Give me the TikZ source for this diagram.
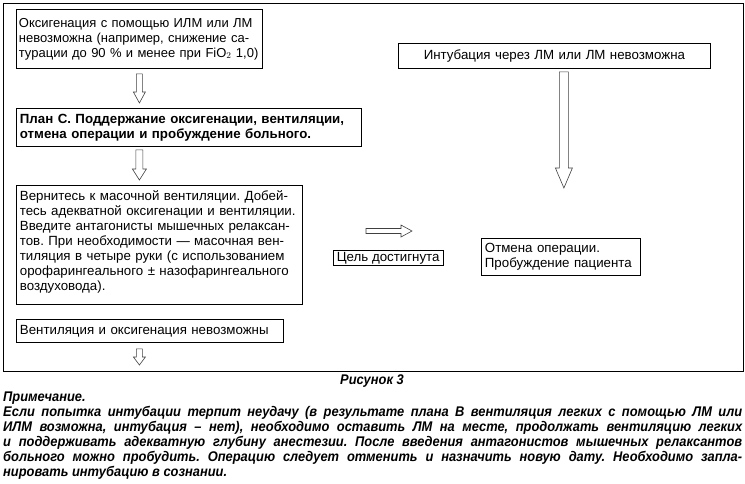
\documentclass[tikz,border=0pt]{standalone}
\usepackage{fontspec}
\setmainfont{Liberation Sans}
\newfontfamily\notefont[FakeStretch=0.92]{Liberation Sans}
\usetikzlibrary{calc}
\frenchspacing
\newcommand{\boxfont}{\fontsize{13.3}{15}\selectfont}
\newcommand{\varr}[5]{%
	\draw[blockarrow] let \p1=(#1), \p2=(#2) in
		({\x1-#3},\y1)--({\x1+#3},\y1)--({\x1+#3},{\y2+#5})--({\x1+#4},{\y2+#5})
		--(\x1,\y2)--({\x1-#4},{\y2+#5})--({\x1-#3},{\y2+#5})--cycle;}
\newcommand{\harr}[5]{%
	\draw[blockarrow] let \p1=(#1), \p2=(#2) in
		(\x1,{\y1+#3})--({\x2-#5},{\y1+#3})--({\x2-#5},{\y1+#4})
		--(\x2,\y1)--({\x2-#5},{\y1-#4})--({\x2-#5},{\y1-#3})--(\x1,{\y1-#3})--cycle;}
\tikzset{
	stepbox/.style={draw,line width=0.8pt,anchor=north west,align=left,inner xsep=3.5pt,inner ysep=2pt,font=\boxfont},
	blockarrow/.style={draw=black!75,line width=0.6pt,fill=white}
}
\begin{document}
\begin{tikzpicture}[x=1pt,y=-1pt]
	\useasboundingbox (0,0) rectangle (745,483);
	\draw[line width=0.8pt] (3,3) rectangle (743,371);
	\node[stepbox,text width=241pt,inner xsep=2.5pt,minimum height=59pt,font=\fontsize{13}{15}\selectfont] (noox) at (16,9)
		{Оксигенация с помощью ИЛМ или ЛМ\\невозможна (например, снижение са-\\турации до 90 \% и менее при FiO$_2$ 1,0)};
	\node[stepbox,text width=338pt,minimum height=38pt,font=\boxfont\bfseries] (planc) at (16,108)
		{План С. Поддержание оксигенации, вентиляции,\\отмена операции и пробуждение больного.};
	\node[stepbox,text width=279pt,inner ysep=0pt] (mask) at (16,185)
		{\rule{0pt}{15pt}Вернитесь к масочной вентиляции. Добей-\\тесь адекватной оксигенации и вентиляции.\\Введите антагонисты мышечных релаксан-\\тов. При необходимости — масочная вен-\\тиляция в четыре руки (с использованием\\орофарингеального ± назофарингеального\\воздуховода).\rule[-14pt]{0pt}{0pt}};
	\node[stepbox,text width=260pt,minimum height=23pt] (novent) at (16,319)
		{Вентиляция и оксигенация невозможны};
	\node[stepbox,text width=305pt,minimum height=25pt,align=center] (intub) at (398,43)
		{Интубация через ЛМ или ЛМ невозможна};
	\node[stepbox,text width=152pt,minimum height=37pt] (cancel) at (481,238)
		{Отмена операции.\\Пробуждение пациента};
	\node[stepbox,inner ysep=0pt,minimum height=15pt] (goal) at (333,250)
		{Цель достигнута};
	\coordinate (down) at (140,365);
	\coordinate (tipr) at (564,188);
	\coordinate (goalst) at (366,231);
	\coordinate (goalend) at (412,231);
	\varr{[yshift=-5pt]noox.south}{[yshift=5pt]planc.north -| noox.south}{3pt}{6pt}{11pt}
	\varr{[yshift=-3pt]planc.south -| noox.south}{[yshift=5pt]mask.north -| noox.south}{3.5pt}{7pt}{11pt}
	\varr{[yshift=-6pt]novent.south -| noox.south}{down}{3pt}{6pt}{8pt}
	\varr{[xshift=9.5pt,yshift=-3pt]intub.south}{tipr}{4.5pt}{8.5pt}{20pt}
	\harr{goalst}{goalend}{2.5pt}{6pt}{11pt}
	\node[font=\notefont\fontsize{14}{15}\selectfont\bfseries\itshape] (fig) at (372,381) {Рисунок 3};
	\node[anchor=north west,inner sep=0pt,text width=739pt,align=justify,
		font=\notefont\fontsize{14}{15}\selectfont\bfseries\itshape] (note) at (3,392)
		{Примечание.\\Если попытка интубации терпит неудачу (в~результате плана В вентиляция легких с помощью ЛМ или\linebreak
		ИЛМ возможна, интубация – нет), необходимо оставить ЛМ на месте, продолжать вентиляцию легких\linebreak
		и поддерживать адекватную глубину анестезии. После введения антагонистов мышечных релаксантов\linebreak
		больного можно пробудить. Операцию следует отменить и назначить новую дату. Необходимо запла-\linebreak
		нировать интубацию в сознании.};
\end{tikzpicture}
\end{document}
